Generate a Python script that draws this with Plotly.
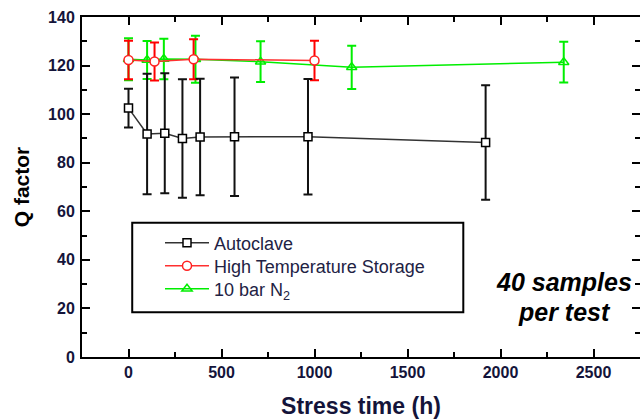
import plotly.graph_objects as go

# ---- data ----
auto_x = [0, 100, 195, 290, 385, 570, 965, 1920]
auto_y = [102.5, 91.8, 92.1, 90.0, 90.6, 90.7, 90.7, 88.3]
auto_err = [8.0, 24.8, 24.7, 24.4, 24.0, 24.4, 23.8, 23.6]

hts_x = [0, 140, 350, 1000]
hts_y = [122.3, 121.7, 122.6, 122.1]
hts_err = [7.9, 7.8, 8.2, 8.1]

n2_x = [0, 100, 190, 360, 710, 1200, 2340]
n2_y = [122.6, 122.3, 122.7, 122.6, 121.6, 119.3, 121.4]
n2_err = [8.6, 7.8, 8.3, 9.7, 8.4, 8.9, 8.4]

x_ticks = [0, 500, 1000, 1500, 2000, 2500]
y_ticks = [0, 20, 40, 60, 80, 100, 120, 140]

note_lines = ["40 samples", "per test"]

FONT = "Arial, Liberation Sans, sans-serif"

# plot-area geometry (pixels)
L, R, T, B = 82, 0, 17, 62
W, H = 640, 419
PW, PH = W - L - R, H - T - B

def px_to_paper_x(px):
    return (px - L) / PW

def px_to_paper_y(py):
    return (H - B - py) / PH

fig = go.Figure()

fig.add_trace(go.Scatter(
    x=n2_x, y=n2_y, name="10 bar N<sub>2</sub>", mode="lines+markers", legend="legend3",
    line=dict(color="#00ee00", width=1.5),
    marker=dict(symbol="triangle-up-open", size=9, color="#00ee00", line=dict(width=1.5)),
    error_y=dict(type="data", array=n2_err, color="#00ee00", thickness=2, width=4.5),
))
fig.add_trace(go.Scatter(
    x=hts_x, y=hts_y, name="High Temperature Storage", mode="lines+markers", legend="legend2",
    line=dict(color="#ff3030", width=1.5),
    marker=dict(symbol="circle", size=9, color="white", line=dict(color="#ff2020", width=1.5)),
    error_y=dict(type="data", array=hts_err, color="#ff0000", thickness=2, width=4.5),
))
fig.add_trace(go.Scatter(
    x=auto_x, y=auto_y, name="Autoclave", mode="lines+markers", legend="legend",
    line=dict(color="#333333", width=1.5),
    marker=dict(symbol="square", size=8, color="white", line=dict(color="black", width=1.5)),
    error_y=dict(type="data", array=auto_err, color="#111111", thickness=2, width=4.5),
))

tickfont = dict(family=FONT, size=16, color="#14143a", weight="bold")

fig.update_xaxes(
    range=[-250, 2750], tickvals=x_ticks, ticks="inside", ticklen=8, tickwidth=2,
    tickcolor="black", showline=True, linecolor="black", linewidth=2, mirror="ticks",
    minor=dict(ticks="inside", ticklen=5, tickwidth=2, tickcolor="black", dtick=250, tick0=-250, showgrid=False),
    showgrid=False, zeroline=False, tickfont=tickfont, ticklabelstandoff=0, automargin=False,
    title=dict(text="Stress time (h)", font=dict(family=FONT, size=23, color="#14143a", weight="bold"), standoff=21),
)
fig.update_yaxes(
    range=[0, 140], tickvals=y_ticks, ticks="inside", ticklen=8, tickwidth=2,
    tickcolor="black", showline=True, linecolor="black", linewidth=2, mirror="ticks",
    minor=dict(ticks="inside", ticklen=5, tickwidth=2, tickcolor="black", dtick=10, showgrid=False),
    showgrid=False, zeroline=False, tickfont=tickfont, ticklabelstandoff=2, automargin=False,
    title=dict(text="Q factor", font=dict(family=FONT, size=21, color="black", weight="bold"), standoff=13),
)

fig.add_shape(type="rect", xref="x", yref="y", x0=20, x1=1800, y0=18.4, y1=55.3,
              line=dict(color="black", width=2), fillcolor="rgba(0,0,0,0)", layer="below")

for txt, py in zip(note_lines, [282, 312]):
    fig.add_annotation(text="<i>" + txt + "</i>", xref="paper", yref="paper",
                       x=px_to_paper_x(564), y=px_to_paper_y(py), xanchor="center", yanchor="middle",
                       showarrow=False, font=dict(family=FONT, size=25, color="black", weight="bold"))

leg_common = dict(xanchor="left", yanchor="middle", bgcolor="rgba(0,0,0,0)", borderwidth=0,
                  font=dict(family=FONT, size=18, color="#222244"), itemwidth=44)

fig.update_layout(
    width=W, height=H, autosize=False,
    margin=dict(l=L, r=R, t=T, b=B),
    plot_bgcolor="white", paper_bgcolor="white",
    showlegend=True,
    legend=dict(x=px_to_paper_x(160), y=px_to_paper_y(243), **leg_common),
    legend2=dict(x=px_to_paper_x(160), y=px_to_paper_y(266), **leg_common),
    legend3=dict(x=px_to_paper_x(160), y=px_to_paper_y(289), **leg_common),
)

fig.write_html("out.html", config={"displayModeBar": False},
               post_script="document.body.style.margin='0px';")
